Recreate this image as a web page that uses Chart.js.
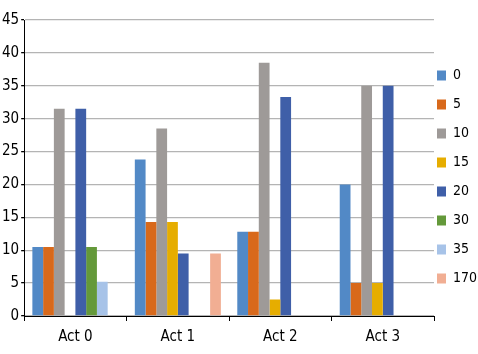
<!DOCTYPE html>
<html>
<head>
<meta charset="utf-8">
<script src="https://cdn.jsdelivr.net/npm/chart.js@4"></script>
<style>
  html, body { margin: 0; padding: 0; background: #fff; }
  #wrap { width: 478px; height: 354px; }
</style>
</head>
<body>
<div id="wrap"><canvas id="myChart"></canvas></div>
<script>
const categories = ["Act 0", "Act 1", "Act 2", "Act 3"];
const seriesNames = ["0", "5", "10", "15", "20", "30", "35", "170"];
const s0 = [10.5, 23.8, 12.8, 20];
const s5 = [10.5, 14.3, 12.8, 5];
const s10 = [31.5, 28.5, 38.5, 35];
const s15 = [0, 14.3, 2.5, 5];
const s20 = [31.5, 9.5, 33.3, 35];
const s30 = [10.5, 0, 0, 0];
const s35 = [5.2, 0, 0, 0];
const s170 = [0, 9.5, 0, 0];
const yTicks = [0, 5, 10, 15, 20, 25, 30, 35, 40, 45];

const colors = ["#5289c6", "#d8691b", "#9e9a98", "#e6ad00", "#3f5fa8", "#64993a", "#a7c3e8", "#f1ae93"];
const values = [s0, s5, s10, s15, s20, s30, s35, s170];

const fontFam = "'Liberation Sans Narrow', 'DejaVu Sans Condensed', 'Liberation Sans', sans-serif";

// pull the legend a little left and up (only move its start so nothing gets clipped)
const legendNudge = {
  id: "legendNudge",
  afterLayout(chart) {
    const lg = chart.legend;
    if (lg) {
      lg.left -= 12;
      lg.top -= 19;
    }
  },
};

const ctx = document.getElementById("myChart").getContext("2d");
const myChart = new Chart(ctx, {
  type: "bar",
  data: {
    labels: categories,
    datasets: seriesNames.map((name, i) => ({
      label: name,
      data: values[i],
      backgroundColor: colors[i],
      borderWidth: 0,
    })),
  },
  options: {
    responsive: true,
    maintainAspectRatio: false,
    animation: false,
    layout: { padding: { top: 20, right: 0, bottom: 1, left: 0 } },
    datasets: { bar: { categoryPercentage: 0.84, barPercentage: 1 } },
    plugins: {
      legend: {
        position: "right",
        maxWidth: 44,
        labels: {
          boxWidth: 9,
          boxHeight: 10,
          padding: 15,
          color: "#000",
          font: { family: fontFam, size: 14 },
        },
      },
      tooltip: { enabled: false },
    },
    scales: {
      x: {
        grid: {
          display: true,
          drawOnChartArea: false,
          drawTicks: true,
          tickLength: 5,
          color: "#000",
          offset: true,
        },
        border: { color: "#000", width: 1 },
        ticks: {
          color: "#000",
          padding: 7,
          font: { family: fontFam, size: 15 },
        },
      },
      y: {
        min: 0,
        max: 45,
        afterBuildTicks: (axis) => {
          axis.ticks = yTicks.map((v) => ({ value: v }));
        },
        grid: {
          color: "#b4b4b4",
          lineWidth: 1.3,
          tickLength: 3,
          tickColor: "#000",
        },
        border: { color: "#000", width: 1 },
        ticks: {
          color: "#000",
          padding: 2,
          font: { family: fontFam, size: 15 },
        },
      },
    },
  },
  plugins: [legendNudge],
});
</script>
</body>
</html>
